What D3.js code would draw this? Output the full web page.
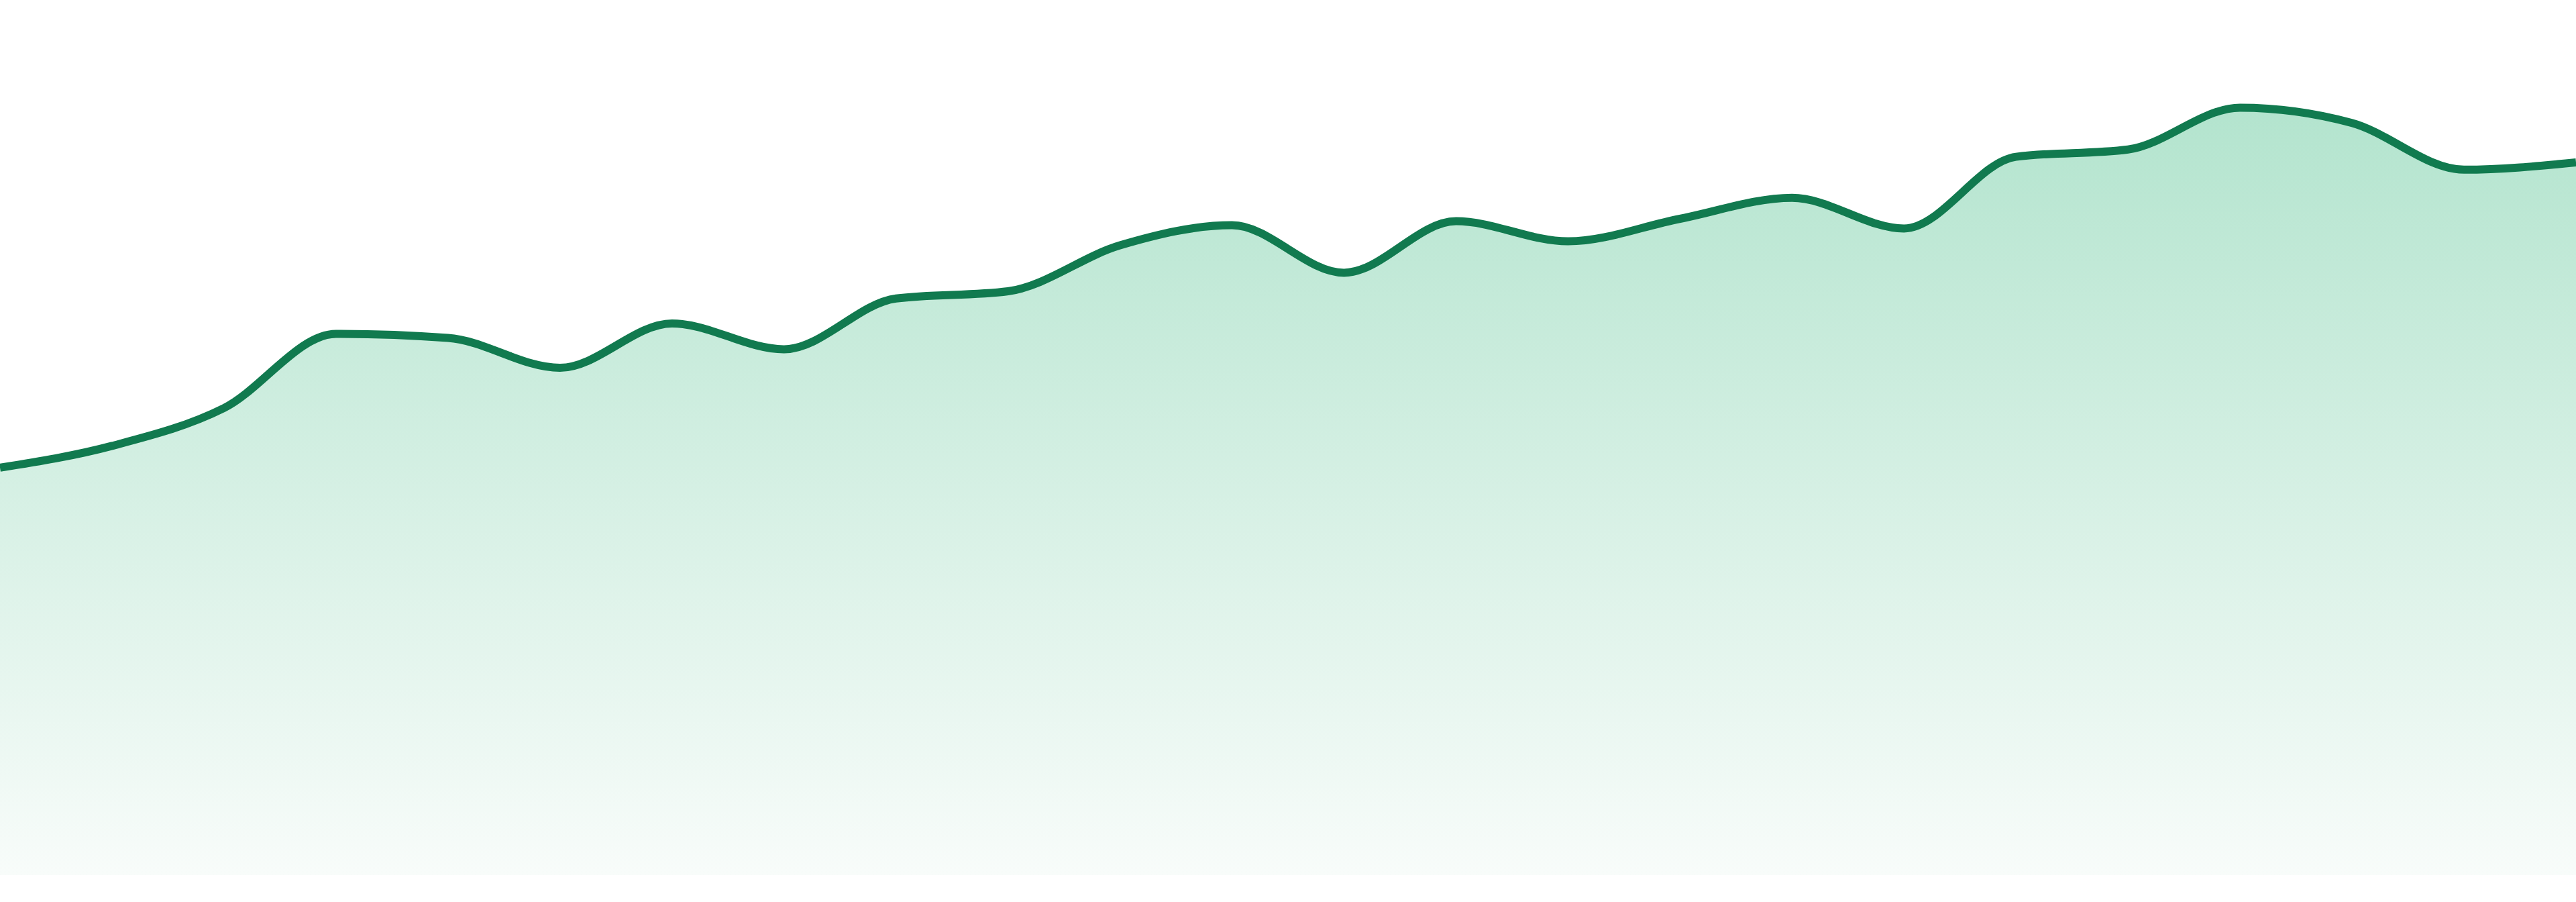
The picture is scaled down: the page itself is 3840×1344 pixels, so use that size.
<!DOCTYPE html>
<html>
<head>
<meta charset="utf-8">
<script src="https://cdn.jsdelivr.net/npm/d3@7"></script>
<style>
  html, body { margin: 0; padding: 0; background: #ffffff; }
  svg { display: block; }
</style>
</head>
<body>
<div id="chart"></div>
<script>
// values (no axis shown, arbitrary units)
const periods = ["1", "2", "3", "4", "5", "6", "7", "8", "9", "10", "11", "12",
                 "13", "14", "15", "16", "17", "18", "19", "20", "21", "22", "23", "24"];
const values = [50.6, 53.3, 58.0, 67.2, 66.7, 63.0, 68.5, 65.3, 71.6, 72.5, 78.2, 80.7,
                74.8, 81.2, 78.7, 81.5, 84.1, 80.3, 89.2, 90.1, 95.3, 93.4, 87.6, 88.5];
const yDomain = [0, 100];

const width = 3840, height = 1344;
const margin = {left: 0, right: 0, top: 104, bottom: 40};

const svg = d3.select("#chart").append("svg")
    .attr("width", width)
    .attr("height", height);

const data = periods.map((p, i) => ({period: p, value: values[i]}));

const xScale = d3.scalePoint()
    .domain(periods)
    .range([margin.left, width - margin.right])
    .padding(0);

const yScale = d3.scaleLinear()
    .domain(yDomain)
    .range([height - margin.bottom, margin.top]);

// vertical fade for the area
const grad = svg.append("defs").append("linearGradient")
    .attr("id", "areaFade")
    .attr("x1", 0).attr("y1", 0)
    .attr("x2", 0).attr("y2", 1);
grad.append("stop").attr("offset", "0%").attr("stop-color", "#b3e4ce");
grad.append("stop").attr("offset", "100%").attr("stop-color", "#f8fcfa");

const area = d3.area()
    .x(d => xScale(d.period))
    .y0(yScale(0))
    .y1(d => yScale(d.value))
    .curve(d3.curveMonotoneX);

const line = d3.line()
    .x(d => xScale(d.period))
    .y(d => yScale(d.value))
    .curve(d3.curveMonotoneX);

svg.append("path")
    .datum(data)
    .attr("class", "area")
    .attr("fill", "url(#areaFade)")
    .attr("d", area);

svg.append("path")
    .datum(data)
    .attr("class", "line")
    .attr("fill", "none")
    .attr("stroke", "#117a4f")
    .attr("stroke-width", 12)
    .attr("stroke-linejoin", "round")
    .attr("d", line);
</script>
</body>
</html>
